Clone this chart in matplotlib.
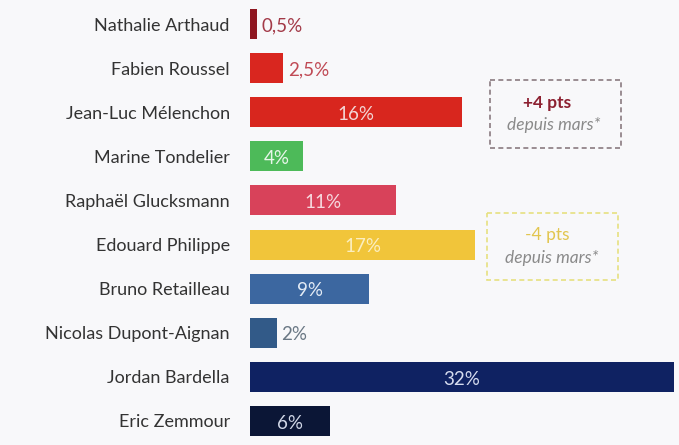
import matplotlib.pyplot as plt
from matplotlib.patches import Rectangle

plt.rcParams['font.family'] = ['Lato', 'DejaVu Sans']

candidats = ["Nathalie Arthaud", "Fabien Roussel", "Jean-Luc Mélenchon",
             "Marine Tondelier", "Raphaël Glucksmann", "Edouard Philippe",
             "Bruno Retailleau", "Nicolas Dupont-Aignan", "Jordan Bardella",
             "Eric Zemmour"]
scores = [0.5, 2.5, 16, 4, 11, 17, 9, 2, 32, 6]
etiquettes = ["0,5%", "2,5%", "16%", "4%", "11%", "17%", "9%", "2%", "32%", "6%"]
couleurs = ["#8e1620", "#d9261f", "#d8261e", "#4dba59", "#d8425a",
            "#f1c53a", "#3c67a0", "#325a88", "#0f2262", "#0b1636"]
# labels placed outside the bar for the tiny ones
dehors = [True, True, False, False, False, False, False, True, False, False]
couleurs_txt = ["#a33a48", "#c04a55", "#f3d4d4", "#e8f6ea", "#f6d8de",
                "#fbeec0", "#e3ebf5", "#6a7884", "#d6dcef", "#d0d6e6"]

fig = plt.figure(figsize=(6.79, 4.45), dpi=100, facecolor="#f8f8fa")
ax = fig.add_axes([250/679, 2/445, 426/679, 441/445])
ax.set_facecolor("#f8f8fa")

y = list(range(len(candidats)))
ax.barh(y, scores, height=0.68, color=couleurs)
ax.set_ylim(9.5, -0.5)
ax.set_xlim(0, 32.15)

for i in y:
    if dehors[i]:
        ax.text(scores[i] + 0.35, i + 0.05, etiquettes[i], ha="left", va="center",
                fontsize=13.5, color=couleurs_txt[i])
    else:
        ax.text(scores[i] / 2, i + 0.05, etiquettes[i], ha="center", va="center",
                fontsize=13.5, color=couleurs_txt[i])

ax.set_yticks(y)
ax.set_yticklabels(candidats, fontsize=13, color="#333333")
ax.tick_params(axis="y", length=0, pad=14.5)
ax.set_xticks([])
for s in ax.spines.values():
    s.set_visible(False)

# encadrés d'évolution
ax.add_patch(Rectangle((18.1, 1.27), 9.9, 1.54, fill=False, ls=(0, (3, 2)),
                       lw=1.2, edgecolor="#8a7a80", clip_on=False))
ax.text(22.4, 1.78, "+4 pts", ha="center", va="center", fontsize=12.5,
        fontweight="bold", color="#8c2030")
ax.text(22.9, 2.3, "depuis mars*", ha="center", va="center", fontsize=12.5,
        style="italic", color="#8a8a8a")

ax.add_patch(Rectangle((17.9, 4.29), 9.9, 1.51, fill=False, ls=(0, (3, 2)),
                       lw=1.2, edgecolor="#e6e080", clip_on=False))
ax.text(22.4, 4.78, "-4 pts", ha="center", va="center", fontsize=12.5,
        color="#e2c650")
ax.text(22.8, 5.3, "depuis mars*", ha="center", va="center", fontsize=12.5,
        style="italic", color="#8a8a8a")

fig.savefig("out.png", dpi=100, facecolor=fig.get_facecolor())
